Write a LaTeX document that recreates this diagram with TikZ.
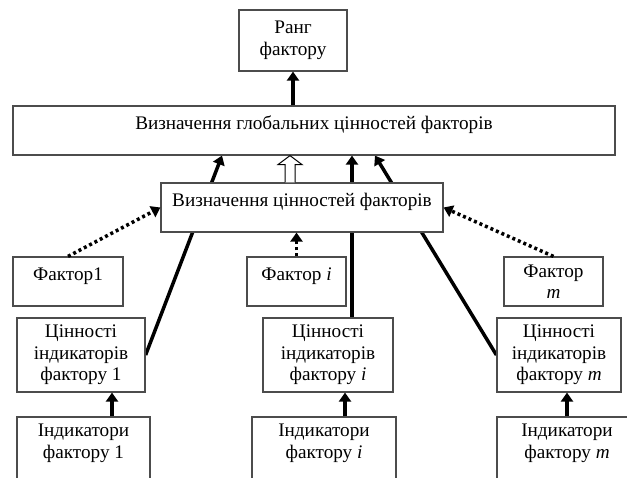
\documentclass[tikz,border=0pt]{standalone}
\usepackage{fontspec}
\setmainfont{Liberation Serif}
\usetikzlibrary{arrows.meta,calc,backgrounds}

\tikzset{
	box/.style = {draw=black!70, line width=1.2pt, fill=white, align=center, inner sep=2pt},
	arr/.style = {line width=3.5pt, -{Triangle[length=9pt,width=12pt]}},
	dots/.style = {arr, dash pattern=on 3pt off 3pt},
	hollow/.style = {draw=black, line width=1pt, fill=white}
}

\begin{document}
\begin{tikzpicture}[x=1pt, y=1pt, font=\fontsize{19.2}{21.5}\selectfont]
		\clip (0,0) rectangle (627,-478);
		% the top part
		\node[box, minimum width=108pt, minimum height=61pt] (rank) at (293,-40.5) {Ранг\\фактору};
		\node[box, minimum width=602pt, minimum height=49pt] (glob) at (314,-130.5) {Визначення глобальних цінностей факторів\\[-6pt] \mbox{}};
		\node[box, minimum width=282pt, minimum height=49pt] (mid) at (302,-207.5) {Визначення цінностей факторів\\[-6pt] \mbox{}};
		% factors
		\node[box, minimum width=110pt, minimum height=49pt] (f1) at (68,-281.5) {Фактор1\\[-6pt] \mbox{}};
		\node[box, minimum width=99pt, minimum height=49pt] (fi) at (296.5,-281.5) {Фактор \textit{i}\\[-6pt] \mbox{}};
		\node[box, minimum width=99pt, minimum height=49pt] (fm) at (553.5,-281.5) {Фактор\\\textit{m}};
		% values of indicators
		\node[box, minimum width=128pt, minimum height=74pt] (c1) at (81,-355) {Цінності\\індикаторів\\фактору 1};
		\node[box, minimum width=130pt, minimum height=74pt] (ci) at (328,-355) {Цінності\\індикаторів\\фактору \textit{i}};
		\node[box, minimum width=124pt, minimum height=74pt] (cm) at (559,-355) {Цінності\\індикаторів\\фактору \textit{m}};
		% indicators
		\node[box, minimum width=133pt, minimum height=70pt] (ind1) at (83.5,-452) {Індикатори\\фактору 1\\ \mbox{}};
		\node[box, minimum width=144pt, minimum height=70pt] (indi) at (324,-452) {Індикатори\\фактору \textit{i}\\ \mbox{}};
		\node[box, minimum width=140pt, minimum height=70pt] (indm) at (567,-452) {Індикатори\\фактору \textit{m}\\ \mbox{}};
		% the arrows
		\draw[arr] (glob.north -| rank.south) -- (rank.south);
		\coordinate (g1) at ([xshift=-92pt]glob.south);
		\coordinate (gi) at ([xshift=38pt]glob.south);
		\coordinate (gm) at ([xshift=61pt]glob.south);
		\begin{scope}[on background layer]
			\draw[arr] (c1.east) -- (g1);
			\draw[arr] ([xshift=24pt]ci.north) -- (gi);
			\draw[arr] (cm.west) -- (gm);
		\end{scope}
		\coordinate (hb) at ([xshift=-12pt]mid.north);
		\coordinate (ht) at (hb |- glob.south);
		\draw[hollow] ($(hb)+(-5,0)$) -- ($(ht)+(-5,-9)$) -- ($(ht)+(-12,-9)$) -- (ht)
			-- ($(ht)+(12,-9)$) -- ($(ht)+(5,-9)$) -- ($(hb)+(5,0)$);
		\draw[dots] (f1.north) -- (mid.west);
		\draw[dots] (fi.north) -- (fi.north |- mid.south);
		\draw[dots] (fm.north) -- (mid.east);
		\coordinate (a1) at ([xshift=28.5pt]ind1.north);
		\coordinate (ai) at ([xshift=21pt]indi.north);
		\coordinate (am) at (indm.north);
		\draw[arr] (a1) -- (a1 |- c1.south);
		\draw[arr] (ai) -- (ai |- ci.south);
		\draw[arr] (am) -- (am |- cm.south);
	\end{tikzpicture}
\end{document}
